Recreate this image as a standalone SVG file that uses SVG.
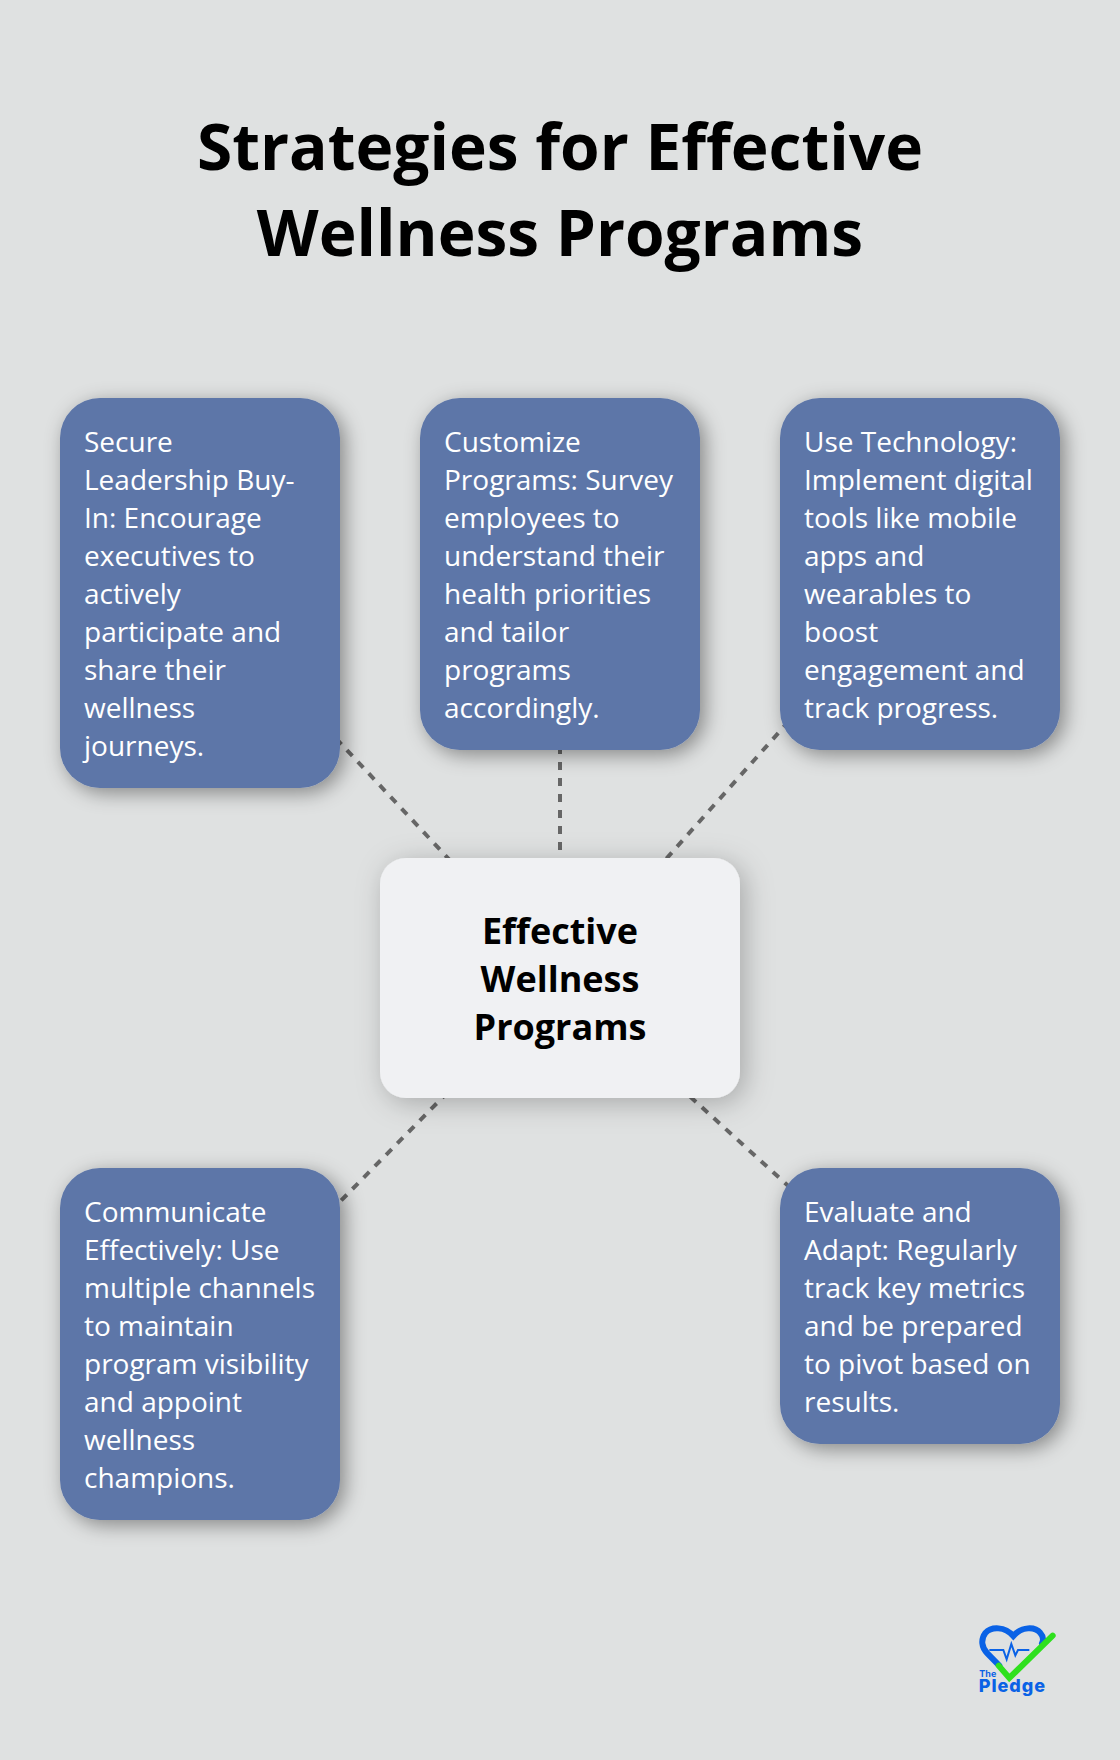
<svg xmlns="http://www.w3.org/2000/svg" width="1120" height="1760" viewBox="0 0 1120 1760">
<style>
.title{font:700 64px "Open Sans",sans-serif;fill:#000;text-anchor:middle}
.box{fill:#5d76a8;filter:url(#sh)}
.t{font:400 28px "Open Sans",sans-serif;fill:#fff}
.c{font:700 36px "Open Sans",sans-serif;fill:#000;text-anchor:middle}
.ln{stroke:#666;stroke-width:4;stroke-dasharray:8 8;fill:none}
</style>
<defs>
<filter id="sh" x="-30%" y="-30%" width="160%" height="160%"><feDropShadow dx="5" dy="5" stdDeviation="10" flood-color="#000" flood-opacity="0.4"/></filter>
<filter id="sh2" x="-30%" y="-30%" width="160%" height="160%"><feDropShadow dx="5" dy="5" stdDeviation="14" flood-color="#000" flood-opacity="0.25"/></filter>
</defs>
<rect width="1120" height="1760" fill="#dfe1e1"/>
<g id="title"><text class="title" x="560" y="170">Strategies for Effective</text><text class="title" x="560" y="256">Wellness Programs</text></g>
<g id="connectors">
<line class="ln" x1="560" y1="978" x2="200" y2="593"/>
<line class="ln" x1="560" y1="978" x2="560" y2="574"/>
<line class="ln" x1="560" y1="978" x2="920" y2="574"/>
<line class="ln" x1="560" y1="978" x2="200" y2="1344"/>
<line class="ln" x1="560" y1="978" x2="920" y2="1306"/>
</g>
<g id="node-1"><rect class="box" x="60" y="398" width="280" height="390" rx="40"/>
<text class="t" x="84" y="452">Secure</text><text class="t" x="84" y="490">Leadership Buy-</text><text class="t" x="84" y="528">In: Encourage</text><text class="t" x="84" y="566">executives to</text><text class="t" x="84" y="604">actively</text><text class="t" x="84" y="642">participate and</text><text class="t" x="84" y="680">share their</text><text class="t" x="84" y="718">wellness</text><text class="t" x="84" y="756">journeys.</text></g>
<g id="node-2"><rect class="box" x="420" y="398" width="280" height="352" rx="40"/>
<text class="t" x="444" y="452">Customize</text><text class="t" x="444" y="490">Programs: Survey</text><text class="t" x="444" y="528">employees to</text><text class="t" x="444" y="566">understand their</text><text class="t" x="444" y="604">health priorities</text><text class="t" x="444" y="642">and tailor</text><text class="t" x="444" y="680">programs</text><text class="t" x="444" y="718">accordingly.</text></g>
<g id="node-3"><rect class="box" x="780" y="398" width="280" height="352" rx="40"/>
<text class="t" x="804" y="452">Use Technology:</text><text class="t" x="804" y="490">Implement digital</text><text class="t" x="804" y="528">tools like mobile</text><text class="t" x="804" y="566">apps and</text><text class="t" x="804" y="604">wearables to</text><text class="t" x="804" y="642">boost</text><text class="t" x="804" y="680">engagement and</text><text class="t" x="804" y="718">track progress.</text></g>
<g id="node-center"><rect x="380" y="858" width="360" height="240" rx="26" fill="#f0f1f3" filter="url(#sh2)"/>
<text class="c" x="560" y="944">Effective</text><text class="c" x="560" y="992">Wellness</text><text class="c" x="560" y="1040">Programs</text></g>
<g id="node-4"><rect class="box" x="60" y="1168" width="280" height="352" rx="40"/>
<text class="t" x="84" y="1222">Communicate</text><text class="t" x="84" y="1260">Effectively: Use</text><text class="t" x="84" y="1298">multiple channels</text><text class="t" x="84" y="1336">to maintain</text><text class="t" x="84" y="1374">program visibility</text><text class="t" x="84" y="1412">and appoint</text><text class="t" x="84" y="1450">wellness</text><text class="t" x="84" y="1488">champions.</text></g>
<g id="node-5"><rect class="box" x="780" y="1168" width="280" height="276" rx="40"/>
<text class="t" x="804" y="1222">Evaluate and</text><text class="t" x="804" y="1260">Adapt: Regularly</text><text class="t" x="804" y="1298">track key metrics</text><text class="t" x="804" y="1336">and be prepared</text><text class="t" x="804" y="1374">to pivot based on</text><text class="t" x="804" y="1412">results.</text></g>
<g id="logo" transform="translate(950 1600) scale(0.3333)">
<path d="M148 197L112 160C94 142 92 118 106 99C124 79 165 79 190 108C215 79 255 79 271 99C281 110 281 120 276 130" fill="none" stroke="#0a62e6" stroke-width="18" stroke-linecap="round"/>
<path d="M118 150H160L170 178L184 132L196 166L204 150H238" fill="none" stroke="#0a62e6" stroke-width="6"/>
<path d="M146 197L178 234L308 107" fill="none" stroke="#2fe01e" stroke-width="18" stroke-linecap="round" stroke-linejoin="miter"/>
<text x="88" y="230" font-family="Inter,sans-serif" font-weight="700" font-size="27" fill="#0a62e6">The</text>
<text x="86" y="275" font-family="Inter,sans-serif" font-weight="800" font-size="54" letter-spacing="3" fill="#0a62e6">Pledge</text>
</g>
</svg>
